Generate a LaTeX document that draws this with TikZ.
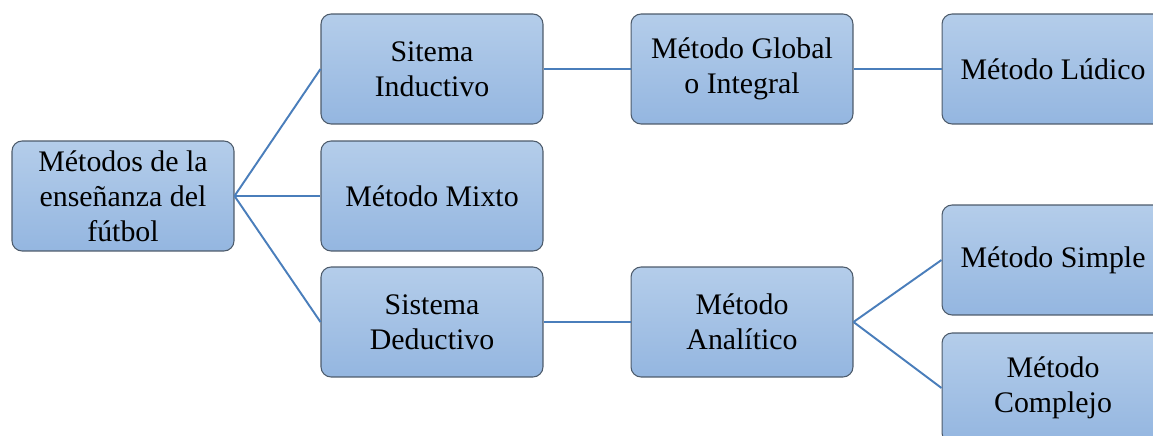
\documentclass[tikz,border=0pt]{standalone}
\usepackage{fontspec}
\setmainfont{Liberation Serif}

\tikzset{
  metbox/.style={draw=black!70!blue!60, line width=0.6pt, rounded corners=0.2cm,
    top color=blue!20!cyan!15!white!85!black!0, bottom color=blue!30!cyan!25!white,
    minimum width=4.44cm, minimum height=2.2cm, align=center, inner sep=2pt,
    font=\fontsize{17}{20}\selectfont},
  rama/.style={line width=1.1pt, color=linea}
}
\definecolor{linea}{HTML}{4A7EBB}
\definecolor{boxtop}{HTML}{B4CDEA}
\definecolor{boxbot}{HTML}{94B6E0}
\definecolor{boxline}{HTML}{4D5B6B}

\begin{document}
\begin{tikzpicture}[x=0.02cm, y=-0.02cm]
\useasboundingbox (0,0) rectangle (1153,436);
\clip (0,0) rectangle (1153,436);

\tikzset{metbox/.append style={top color=boxtop, bottom color=boxbot, draw=boxline}}

\node[metbox] (raiz) at (123,196) {Métodos de la\\enseñanza del\\fútbol}; % raiz
\node[metbox] (induc) at (432,69) {Sitema\\Inductivo}; % nivel 1
\node[metbox] (mixto) at (432,196) {Método Mixto};
\node[metbox] (deduc) at (432,322) {Sistema\\Deductivo};
\node[metbox] (global) at (742,69) {Método Global\\o Integral}; % nivel 2
\node[metbox] (analit) at (742,322) {Método\\Analítico};
\node[metbox] (ludico) at (1053,69) {Método Lúdico}; % nivel 3
\node[metbox] (simple) at (1053,260) {Método Simple};
\node[metbox] (complejo) at (1053,388) {Método\\Complejo};

\draw[rama] (raiz.east) -- (induc.west) ;
\draw[rama] (raiz.east) -- (mixto.west) ;
\draw[rama] (raiz.east) -- (deduc.west) ;
\draw[rama] (induc.east) -- (global.west) ;
\draw[rama] (global.east) -- (ludico.west) ;
\draw[rama] (deduc.east) -- (analit.west) ;
\draw[rama] (analit.east) -- (simple.west) ;
\draw[rama] (analit.east) -- (complejo.west) ;
\end{tikzpicture}
\end{document}
